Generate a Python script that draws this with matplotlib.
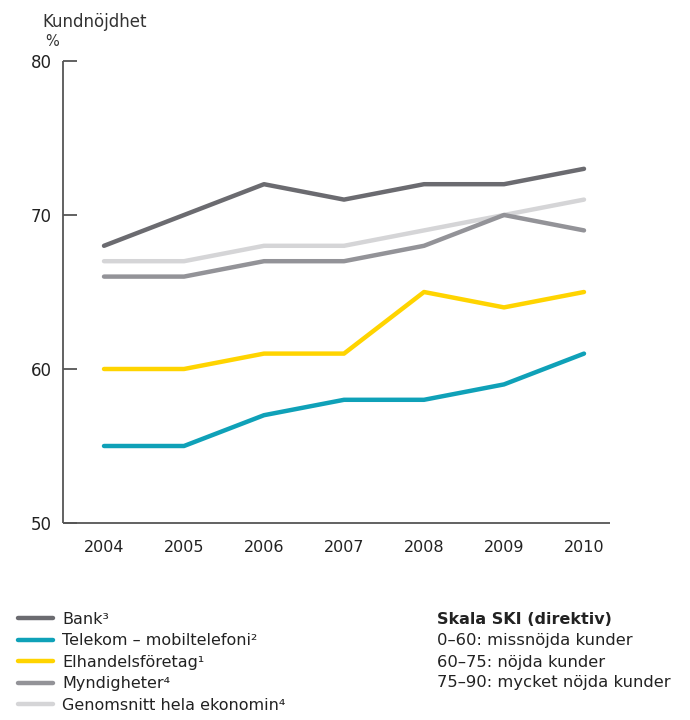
import matplotlib
matplotlib.use("Agg")
import matplotlib.pyplot as plt

plt.rcParams['font.family'] = ['DejaVu Sans']

years = [2004, 2005, 2006, 2007, 2008, 2009, 2010]
bank = [68, 70, 72, 71, 72, 72, 73]
telekom = [55, 55, 57, 58, 58, 59, 61]
elhandel = [60, 60, 61, 61, 65, 64, 65]
myndigheter = [66, 66, 67, 67, 68, 70, 69]
genomsnitt = [67, 67, 68, 68, 69, 70, 71]

labels = ["Bank\u00b3", "Telekom \u2013 mobiltelefoni\u00b2", "Elhandelsföretag\u00b9",
          "Myndigheter\u2074", "Genomsnitt hela ekonomin\u2074"]
colors = ["#6b6b70", "#0fa1b8", "#ffd400", "#939398", "#d5d5d7"]
yticks = [50, 60, 70, 80]

fig = plt.figure(figsize=(6.9, 7.2), dpi=100)
ax = fig.add_axes([63/690, 1-523/720, (610-63)/690, (523-61)/720])

series = [bank, telekom, elhandel, myndigheter, genomsnitt]
zorders = [6, 5, 4, 3, 2]
handles = []
for s, c, lab, z in zip(series, colors, labels, zorders):
    h, = ax.plot(years, s, color=c, lw=3.2, solid_capstyle='round',
                 solid_joinstyle='round', label=lab, zorder=z)
    handles.append(h)

ax.set_xlim(2003.4875, 2010.325)
ax.set_ylim(50, 80)
ax.set_xticks(years)
ax.set_yticks(yticks)
for sp in ['top', 'right']:
    ax.spines[sp].set_visible(False)
for sp in ['left', 'bottom']:
    ax.spines[sp].set_color('#555555')
    ax.spines[sp].set_linewidth(1.3)
    ax.spines[sp].set_capstyle('butt')
ax.tick_params(axis='y', direction='in', length=10, width=1.3, color='#555555',
               labelsize=12, pad=8, labelcolor='#222222')
ax.tick_params(axis='x', length=0, labelsize=11.5, pad=12, labelcolor='#222222')

fig.text(42/690, 1-22/720, "Kundnöjdhet", fontsize=12, color='#333333', va='center')
fig.text(45/690, 1-42/720, "%", fontsize=10.5, color='#333333', va='center')

leg = fig.legend(handles=handles, loc='upper left', bbox_to_anchor=(18/690, 1-612/720),
                 frameon=False, fontsize=11.5, handlelength=2.2, handletextpad=0.55,
                 labelspacing=0.4, borderaxespad=0, borderpad=0)
for t in leg.get_texts():
    t.set_color('#222222')

x0 = 437/690
fig.text(x0, 1-620/720, "Skala SKI (direktiv)", fontsize=11.5, fontweight='bold',
         color='#222222', va='center')
scale_lines = ["0\u201360: missnöjda kunder", "60\u201375: nöjda kunder",
               "75\u201390: mycket nöjda kunder"]
for i, line in enumerate(scale_lines):
    fig.text(x0, 1-(641+21*i)/720, line, fontsize=11.8, color='#222222', va='center')

fig.savefig("out.png", dpi=100)
